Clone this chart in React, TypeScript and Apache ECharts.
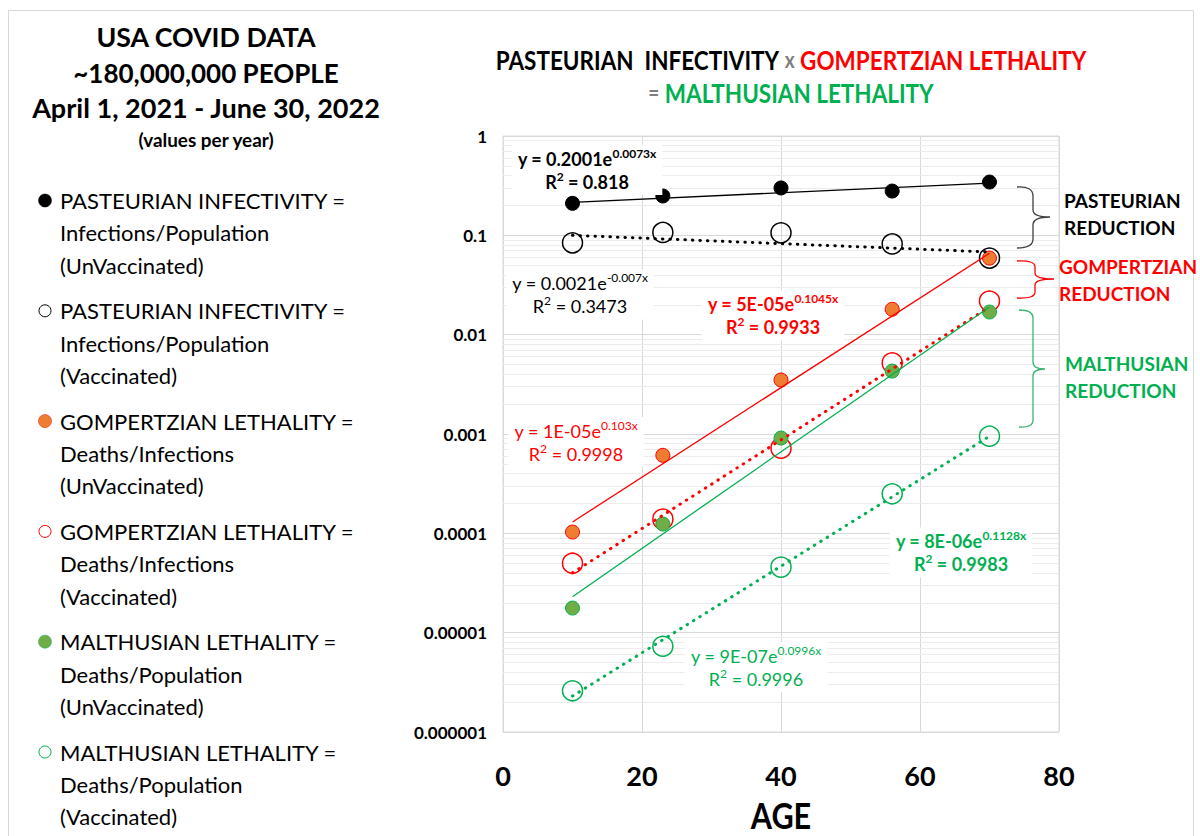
import React, { useEffect, useRef } from "react";
import * as echarts from "echarts";

// ---------- data ----------
const ages = [10, 23, 40, 56, 70];
const pasteurianUnvax = [0.21, 0.249, 0.3, 0.279, 0.344];
const pasteurianVax = [0.084, 0.107, 0.106, 0.082, 0.059];
const gompertzianUnvax = [0.000103, 0.00061, 0.0035, 0.018, 0.059];
const gompertzianVax = [0.00005, 0.000139, 0.00072, 0.0052, 0.0218];
const malthusianUnvax = [0.0000177, 0.000124, 0.00091, 0.0043, 0.0169];
const malthusianVax = [0.0000026, 0.0000073, 0.0000457, 0.00025, 0.00095];

// trendline end points
const trendAges = [10, 70];
const trendPasteurianUnvax = [0.215, 0.335];
const trendPasteurianVax = [0.1, 0.068];
const trendGompertzianUnvax = [0.00013, 0.066];
const trendGompertzianVax = [0.00004, 0.019];
const trendMalthusianUnvax = [0.000023, 0.019];
const trendMalthusianVax = [0.0000023, 0.00095];

const yTickLabels = ["0.000001", "0.00001", "0.0001", "0.001", "0.01", "0.1", "1"];
const xTickLabels = ["0", "20", "40", "60", "80"];

const legendLabels = [
  ["PASTEURIAN INFECTIVITY =", "Infections/Population", "(UnVaccinated)"],
  ["PASTEURIAN INFECTIVITY =", "Infections/Population", "(Vaccinated)"],
  ["GOMPERTZIAN LETHALITY =", "Deaths/Infections", "(UnVaccinated)"],
  ["GOMPERTZIAN LETHALITY =", "Deaths/Infections", "(Vaccinated)"],
  ["MALTHUSIAN LETHALITY =", "Deaths/Population", "(UnVaccinated)"],
  ["MALTHUSIAN LETHALITY =", "Deaths/Population", "(Vaccinated)"],
];

const equations = [
  { main: "y = 0.2001e", sup: "0.0073x", r2: "0.818" },
  { main: "y = 0.0021e", sup: "-0.007x", r2: "0.3473" },
  { main: "y = 5E-05e", sup: "0.1045x", r2: "0.9933" },
  { main: "y = 1E-05e", sup: "0.103x", r2: "0.9998" },
  { main: "y = 8E-06e", sup: "0.1128x", r2: "0.9983" },
  { main: "y = 9E-07e", sup: "0.0996x", r2: "0.9996" },
];

// ---------- styles ----------
const FONT = "Lato";
const BLACK = "#000000";
const RED = "#FF0000";
const ORANGE = "#ED7D31";
const GREEN = "#00B050";
const GREEN_FILL = "#70AD47";
const GRID = "#d9d9d9";
const MINOR = "#ececec";

echarts.graphic.registerShape(
  "braceBlack",
  echarts.graphic.extendPath(
    "M1017,187 Q1033,186 1033,196 L1033,210 Q1033,217 1050,217 Q1033,217 1033,225 L1033,239 Q1033,248 1017,248",
    {}
  )
);
echarts.graphic.registerShape(
  "braceRed",
  echarts.graphic.extendPath(
    "M1017,261 Q1035,260 1035,267 L1035,273 Q1035,279 1054,279 Q1035,279 1035,285 L1035,292 Q1035,299 1017,298",
    {}
  )
);
echarts.graphic.registerShape(
  "braceGreen",
  echarts.graphic.extendPath(
    "M1019,310 Q1033,310 1033,318 L1033,362 Q1033,369 1045,369 Q1033,369 1033,376 L1033,420 Q1033,428 1019,427",
    {}
  )
);

function txt(x: number, y: number, text: string, o: any = {}) {
  const align = o.align ?? "left";
  return {
    type: "text",
    x,
    y,
    z: 50,
    silent: true,
    scaleX: o.scaleX ?? 1,
    style: {
      text,
      fill: o.fill ?? BLACK,
      fontFamily: FONT,
      fontSize: o.size ?? 16,
      fontWeight: o.weight ?? "normal",
      align,
      textAlign: align,
      verticalAlign: "middle",
      textVerticalAlign: "middle",
      lineHeight: o.lh,
      rich: o.rich,
      backgroundColor: o.bg,
      padding: o.pad,
    },
  };
}

function eqGraphic(i: number, x: number, y: number, color: string, bold: boolean) {
  const e = equations[i];
  const w = bold ? "bold" : "normal";
  return txt(x, y, `{m|${e.main}}{s|${e.sup}}\n{m|R}{s|2}{m| = ${e.r2}}`, {
    align: "center",
    fill: color,
    bg: "#ffffff",
    pad: [2, 6, 2, 6],
    rich: {
      m: { fontFamily: FONT, fontSize: 18, fontWeight: w, fill: color, lineHeight: 23 },
      s: { fontFamily: FONT, fontSize: 12, fontWeight: w, fill: color, verticalAlign: "top", lineHeight: 23 },
    },
  });
}

export default function App() {
  const ref = useRef<HTMLDivElement>(null);

  useEffect(() => {
    if (!ref.current) return;
    const chart = echarts.init(ref.current, null, { renderer: "svg" });

    const minorLines: any[] = [];
    for (let k = -6; k < 0; k++) {
      for (let m = 2; m <= 9; m++) {
        minorLines.push({ yAxis: Number((m * Math.pow(10, k)).toPrecision(3)) });
      }
    }

    const pts = (ys: number[]) => ages.map((a, i) => [a, ys[i]]);
    const tr = (ys: number[]) => trendAges.map((a, i) => [a, ys[i]]);

    const filled = (name: string, ys: number[], fill: string, border: string) => ({
      type: "scatter",
      name,
      data: pts(ys),
      symbol: "circle",
      symbolSize: 14,
      z: 3,
      itemStyle: { color: fill, borderColor: border, borderWidth: 1, opacity: 1 },
    });
    const open = (name: string, ys: number[], color: string) => ({
      type: "scatter",
      name,
      data: pts(ys),
      symbol: "circle",
      symbolSize: 20,
      z: 3,
      itemStyle: { color: "rgba(255,255,255,0)", borderColor: color, borderWidth: 1.5, opacity: 1 },
    });
    const solid = (name: string, ys: number[], color: string) => ({
      type: "line",
      name,
      data: tr(ys),
      symbol: "none",
      z: 4,
      lineStyle: { color, width: 1.3, type: "solid" },
    });
    const dotted = (name: string, ys: number[], color: string) => ({
      type: "line",
      name,
      data: tr(ys),
      symbol: "none",
      z: 4,
      lineStyle: { color, width: 3, type: [0.5, 7], cap: "round" },
    });

    const legendColors = [
      { fill: BLACK, stroke: BLACK, filled: true },
      { fill: "none", stroke: BLACK, filled: false },
      { fill: ORANGE, stroke: RED, filled: true },
      { fill: "none", stroke: RED, filled: false },
      { fill: GREEN_FILL, stroke: GREEN, filled: true },
      { fill: "none", stroke: GREEN, filled: false },
    ];

    const legendGraphics: any[] = [];
    legendLabels.forEach((lines, i) => {
      const y0 = 200.5 + i * 110.3;
      const c = legendColors[i];
      legendGraphics.push({
        type: "circle",
        z: 50,
        silent: true,
        shape: { cx: 45, cy: y0, r: c.filled ? 6.5 : 6 },
        style: { fill: c.filled ? c.fill : "#fff", stroke: c.stroke, lineWidth: c.filled ? 0.5 : 1 },
      });
      lines.forEach((t, j) => {
        legendGraphics.push(txt(60, y0 + j * 32.3, t, { size: 22 }));
      });
    });

    const option: any = {
      animation: false,
      backgroundColor: "#ffffff",
      grid: {
        left: 503,
        top: 136,
        width: 556,
        height: 596,
        show: true,
        borderColor: GRID,
        borderWidth: 1,
        containLabel: false,
      },
      xAxis: {
        type: "value",
        min: 0,
        max: 80,
        interval: 20,
        axisLine: { show: false },
        axisTick: { show: false },
        splitLine: { show: true, lineStyle: { color: GRID, width: 1 } },
        axisLabel: {
          margin: 30,
          fontFamily: FONT,
          fontSize: 27,
          fontWeight: "bold",
          color: BLACK,
          formatter: (v: number) => xTickLabels[Math.round(v / 20)] ?? "",
        },
      },
      yAxis: {
        type: "log",
        logBase: 10,
        min: 0.000001,
        max: 1,
        axisLine: { show: false },
        axisTick: { show: false },
        splitLine: { show: true, lineStyle: { color: GRID, width: 1 } },
        axisLabel: {
          margin: 16,
          fontFamily: FONT,
          fontSize: 17,
          fontWeight: "bold",
          color: BLACK,
          formatter: (v: number) => yTickLabels[Math.round(Math.log10(v)) + 6] ?? "",
        },
      },
      series: [
        {
          type: "scatter",
          name: "minor-grid",
          data: [],
          silent: true,
          z: 1,
          markLine: {
            silent: true,
            symbol: "none",
            precision: 12,
            z: 1,
            label: { show: false },
            lineStyle: { color: MINOR, width: 1, type: "solid" },
            data: minorLines,
          },
        },
        filled("Pasteurian Infectivity (UnVaccinated)", pasteurianUnvax, BLACK, BLACK),
        open("Pasteurian Infectivity (Vaccinated)", pasteurianVax, BLACK),
        filled("Gompertzian Lethality (UnVaccinated)", gompertzianUnvax, ORANGE, RED),
        open("Gompertzian Lethality (Vaccinated)", gompertzianVax, RED),
        filled("Malthusian Lethality (UnVaccinated)", malthusianUnvax, GREEN_FILL, GREEN),
        open("Malthusian Lethality (Vaccinated)", malthusianVax, GREEN),
        solid("Trend Pasteurian UnVaccinated", trendPasteurianUnvax, BLACK),
        dotted("Trend Pasteurian Vaccinated", trendPasteurianVax, BLACK),
        solid("Trend Gompertzian UnVaccinated", trendGompertzianUnvax, RED),
        dotted("Trend Gompertzian Vaccinated", trendGompertzianVax, RED),
        solid("Trend Malthusian UnVaccinated", trendMalthusianUnvax, GREEN),
        dotted("Trend Malthusian Vaccinated", trendMalthusianVax, GREEN),
      ],
      graphic: {
        elements: [
          {
            type: "rect",
            z: 0,
            silent: true,
            shape: { x: 8.5, y: 10.5, width: 1185, height: 840 },
            style: { fill: "none", stroke: GRID, lineWidth: 1 },
          },
          // left titles
          txt(206, 37, "USA COVID DATA", { size: 26, weight: "bold", align: "center", scaleX: 1.03 }),
          txt(206, 73, "~180,000,000 PEOPLE", { size: 26, weight: "bold", align: "center" }),
          txt(206, 108, "April 1, 2021 - June 30, 2022", { size: 26, weight: "bold", align: "center", scaleX: 1.04 }),
          txt(206, 140, "(values per year)", { size: 18, weight: "bold", align: "center", scaleX: 1.05 }),
          ...legendGraphics,
          // chart title
          {
            type: "text",
            x: 791,
            y: 76,
            z: 50,
            silent: true,
            scaleX: 0.865,
            style: {
              text:
                "{k|PASTEURIAN  INFECTIVITY} {x|x} {r|GOMPERTZIAN LETHALITY}\n{x|=} {g|MALTHUSIAN LETHALITY}",
              align: "center",
              textAlign: "center",
              verticalAlign: "middle",
              textVerticalAlign: "middle",
              fontFamily: FONT,
              fontSize: 26,
              fontWeight: "bold",
              rich: {
                k: { fill: BLACK, fontFamily: FONT, fontSize: 26, fontWeight: "bold", lineHeight: 33 },
                x: { fill: "#7f7f7f", fontFamily: FONT, fontSize: 22, fontWeight: "bold", lineHeight: 33 },
                r: { fill: RED, fontFamily: FONT, fontSize: 26, fontWeight: "bold", lineHeight: 33 },
                g: { fill: GREEN, fontFamily: FONT, fontSize: 26, fontWeight: "bold", lineHeight: 33 },
              },
            },
          },
          // x-axis title
          txt(781, 815, "AGE", { size: 36, weight: "bold", align: "center", scaleX: 0.85 }),
          // equations
          eqGraphic(0, 587, 170, BLACK, true),
          eqGraphic(1, 580, 294.5, BLACK, false),
          eqGraphic(2, 773, 315.5, RED, true),
          eqGraphic(3, 576, 442, RED, false),
          eqGraphic(4, 961, 552.5, GREEN, true),
          eqGraphic(5, 756, 667, GREEN, false),
          // braces
          { type: "braceBlack", z: 50, silent: true, style: { fill: "none", stroke: "#404040", lineWidth: 1.3 } },
          { type: "braceRed", z: 50, silent: true, style: { fill: "none", stroke: RED, lineWidth: 1.3 } },
          { type: "braceGreen", z: 50, silent: true, style: { fill: "none", stroke: "#3cb371", lineWidth: 1.3 } },
          // right labels
          txt(1064, 214, "PASTEURIAN\nREDUCTION", { size: 19, weight: "bold", lh: 27 }),
          txt(1059, 280, "GOMPERTZIAN\nREDUCTION", { size: 19, weight: "bold", lh: 27, fill: RED }),
          txt(1065, 377, "MALTHUSIAN\nREDUCTION", { size: 19, weight: "bold", lh: 27, fill: GREEN }),
        ],
      },
    };

    chart.setOption(option);
    return () => chart.dispose();
  }, []);

  return (
    <div
      ref={ref}
      style={{ position: "fixed", left: 0, top: 0, width: 1200, height: 836, background: "#fff" }}
    />
  );
}
